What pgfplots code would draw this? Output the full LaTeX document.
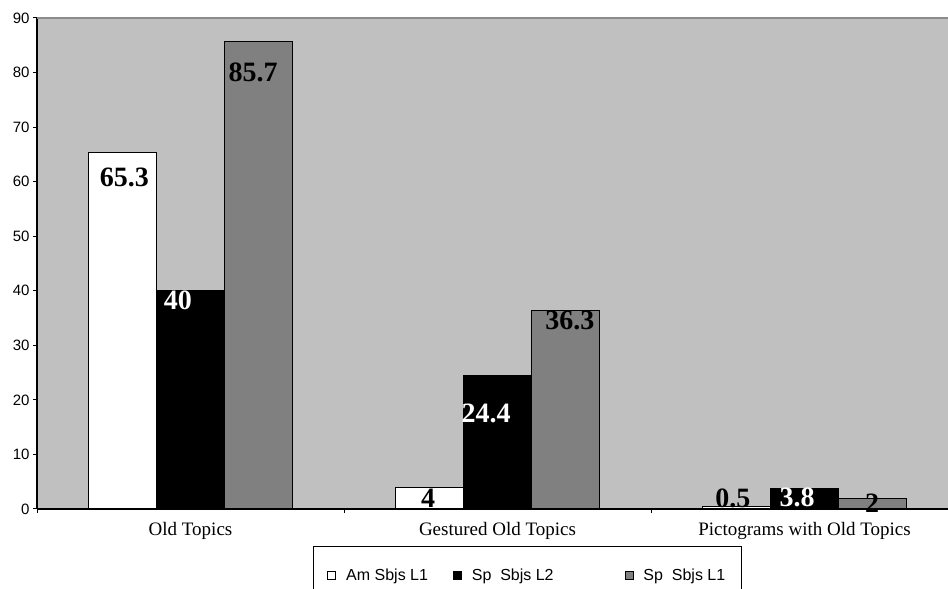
\documentclass[border=0pt]{standalone}
\usepackage{fontspec}
\setmainfont{Liberation Serif}
\newfontfamily\sans{Liberation Sans}
\usepackage{pgfplots}
\pgfplotsset{compat=1.18}
\usetikzlibrary{calc}

\definecolor{plotbg}{HTML}{C0C0C0}
\definecolor{bargray}{HTML}{808080}
\definecolor{framegray}{HTML}{8C8C8C}

\begin{document}
\begin{tikzpicture}
\begin{axis}[
    name=ax,
    scale only axis,
    width=921pt, height=491pt,
    xmin=-0.5, xmax=2.5,
    ymin=0, ymax=90,
    ytick={0,10,...,90},
    xtick={-0.5,0.5,1.5},
    xticklabels={},
    extra x ticks={0,1,2},
    extra x tick labels={Old Topics, Gestured Old Topics, Pictograms with Old Topics},
    extra x tick style={major tick length=0pt, tick label style={font=\fontsize{19}{21}\selectfont, yshift=-10pt}},
    axis x line*=bottom,
    axis y line*=left,
    axis line style={black, line width=1.2pt, -},
    tick align=outside,
    major tick length=4pt,
    tick style={black, line width=1pt},
    tick label style={font=\sans\fontsize{15}{17}\selectfont},
    /pgf/number format/assume math mode=true,
    axis background/.style={fill=plotbg},
    mybar/.style={ybar, bar width=68pt, draw=black, line width=1pt,
        legend image code/.code={\draw[##1, line width=0.8pt] (0pt,-4pt) rectangle (8pt,4pt);}},
    lab/.style={draw=none, mark=none, forget plot, nodes near coords, point meta=explicit symbolic,
        nodes near coords style={font=\bfseries\fontsize{28}{30}\selectfont, anchor=center}},
    legend columns=3,
    legend style={at={(0.2997,-0.0754)}, anchor=north west, draw=black, line width=0.8pt,
        inner xsep=14pt, inner ysep=20pt, font=\sans\fontsize{16}{18}\selectfont,
        /tikz/every odd column/.append style={column sep=8pt},
        /tikz/every even column/.append style={column sep=6pt}},
]
\addplot[mybar, fill=white, bar shift=-68pt] coordinates {(0,65.3) (1,4) (2,0.5)};
\addlegendentry{Am Sbjs L1\rule{17pt}{0pt}}
\addplot[mybar, fill=black, bar shift=0pt] coordinates {(0,40) (1,24.4) (2,3.8)};
\addlegendentry{Sp\ \ Sbjs L2\rule{63pt}{0pt}}
\addplot[mybar, fill=bargray, bar shift=68pt] coordinates {(0,85.7) (1,36.3) (2,2)};
\addlegendentry{Sp\ \ Sbjs L1}

\addplot[lab, nodes near coords style={text=black}] coordinates {(-0.215,60.7)[65.3] (0.204,80.1)[85.7] (0.774,2.0)[4] (1.236,34.6)[36.3] (1.767,2.0)[0.5] (2.22,1.0)[2]};
\addplot[lab, nodes near coords style={text=white}] coordinates {(-0.041,38.3)[40] (0.963,17.6)[24.4] (1.976,2.2)[3.8]};

\draw[framegray, line width=1.5pt] (rel axis cs:0,1) -- (rel axis cs:1,1);
\coordinate (sw) at (rel axis cs:0,0);
\coordinate (ne) at (rel axis cs:1,1);
\end{axis}
\pgfresetboundingbox
\path[use as bounding box] ($(sw)+(-37pt,-80pt)$) rectangle ($(ne)+(-10pt,18pt)$);
\end{tikzpicture}
\end{document}
